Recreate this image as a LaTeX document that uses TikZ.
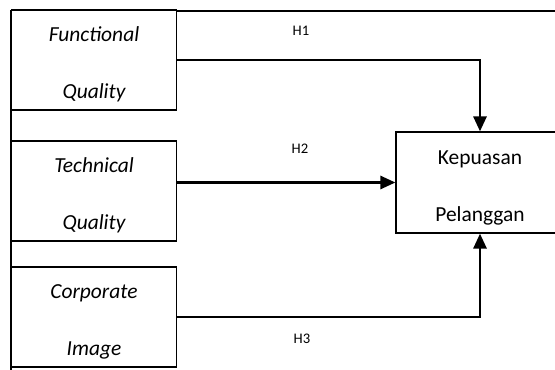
\documentclass[tikz,border=0pt]{standalone}
\usepackage{fontspec}
\setsansfont{Carlito}
\usetikzlibrary{positioning,arrows.meta}

\begin{document}
\begin{tikzpicture}[
  x=0.03cm, y=-0.03cm,
  font=\sffamily,
  var/.style={rectangle, draw=black, line width=1.2pt, minimum width=4.95cm, minimum height=3cm,
              inner sep=0pt, fill=white, align=center, font=\sffamily\itshape\fontsize{18.3}{48.5}\selectfont,
              text height=66pt, text depth=0pt},
  dep/.style={var, minimum width=5.04cm, minimum height=3.03cm, font=\sffamily\fontsize{18.3}{48.5}\selectfont},
  hyp/.style={font=\sffamily\fontsize{12.5}{14}\selectfont},
  outer/.style={draw=black, line width=1.2pt},
  link/.style={-{Triangle[length=0.45cm,width=0.4cm]}, draw=black, line width=1.8pt}
]
\useasboundingbox (0,0) rectangle (555,370);
\draw[outer] (11,380) |- (570,11);

\node[var] (fq) at (94,60)     {Functional \\ Quality};
\node[var] (tq) at (94,191)    {Technical \\ Quality};
\node[var] (ci) at (94,317)    {Corporate \\ Image};
\node[dep] (kp) at (480,182.5) {Kepuasan \\ Pelanggan};

\node[hyp] (h1) at (301,31)  {H1};
\node[hyp] (h2) at (300,149) {H2};
\node[hyp] (h3) at (302,339) {H3};

\draw[link] (fq.east) -| (kp.north);
\draw[link] (tq.east |- kp.west) -- (kp.west);
\draw[link] (ci.east) -| (kp.south);
\end{tikzpicture}
\end{document}
